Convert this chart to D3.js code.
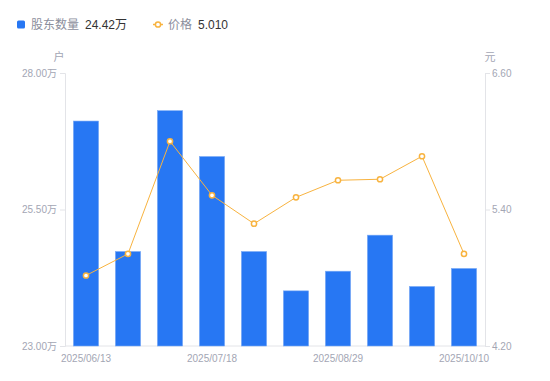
<!DOCTYPE html>
<html>
<head>
<meta charset="utf-8">
<script src="https://cdn.jsdelivr.net/npm/d3@7"></script>
<style>
  body { margin: 0; background: #fff; }
  svg { display: block; font-family: "Liberation Sans", Arial, "Noto Sans CJK SC", sans-serif; }
</style>
</head>
<body>
<svg id="chart" width="550" height="381"></svg>
<script>
// data
const dates = ['2025/06/13', '2025/06/27', '2025/07/04', '2025/07/18', '2025/07/31',
               '2025/08/15', '2025/08/29', '2025/09/12', '2025/09/26', '2025/10/10'];
const holders = [27.12, 24.73, 27.31, 26.47, 24.73, 24.01, 24.37, 25.03, 24.09, 24.42]; // 万户
const prices = [4.82, 5.01, 6.00, 5.525, 5.275, 5.507, 5.657, 5.666, 5.868, 5.01];   // 元
const shownDates = ['2025/06/13', '2025/07/18', '2025/08/29', '2025/10/10'];
const holderTicks = [23, 25.5, 28];
const priceTicks = [4.2, 5.4, 6.6];

const W = 550, H = 381;
const m = { left: 65, right: 485, top: 73, bottom: 346 };
const blue = '#2777f3', orange = '#f8b33f', axisCol = '#e3e4e8', tickCol = '#a3a6b4';

const svg = d3.select('#chart');

const x = d3.scaleBand().domain(dates).range([m.left, m.right])
            .paddingInner(0.4).paddingOuter(0.2);
const yL = d3.scaleLinear().domain([23, 28]).range([m.bottom, m.top]);
const yR = d3.scaleLinear().domain([4.2, 6.6]).range([m.bottom, m.top]);

// axes
const axL = d3.axisLeft(yL).tickValues(holderTicks).tickSize(5).tickPadding(3)
              .tickFormat(d => d.toFixed(2) + '万');
const axR = d3.axisRight(yR).tickValues(priceTicks).tickSize(5).tickPadding(2)
              .tickFormat(d => d.toFixed(2));
const axB = d3.axisBottom(x).tickValues(shownDates).tickSize(0).tickPadding(9);

function style(g) {
    g.selectAll('path, line').attr('stroke', axisCol);
    g.selectAll('text').attr('fill', tickCol).attr('font-size', 10);
    g.attr('font-family', null);
}

svg.append('g').attr('transform', `translate(${m.left},0)`).call(axL).call(style);
svg.append('g').attr('transform', `translate(${m.right},0)`).call(axR).call(style);
svg.append('g').attr('transform', `translate(0,${m.bottom})`).call(axB).call(style)
    .select('.domain').attr('d', `M${m.left},0H${m.right}`);

// units
svg.append('text').attr('x', 59).attr('y', 61).attr('text-anchor', 'middle')
    .attr('font-size', 11).attr('fill', tickCol).text('户');
svg.append('text').attr('x', 490).attr('y', 61).attr('text-anchor', 'middle')
    .attr('font-size', 11).attr('fill', tickCol).text('元');

// bars
svg.append('g').selectAll('rect')
    .data(holders)
    .enter()
        .append('rect')
            .attr('x', (d, i) => x(dates[i]))
            .attr('y', d => yL(d))
            .attr('width', x.bandwidth())
            .attr('height', d => m.bottom - yL(d))
            .attr('fill', blue)
            .attr('stroke', '#7aaaf6')
            .attr('stroke-width', 0.6);

// price line
const cx = (d, i) => x(dates[i]) + x.bandwidth() / 2;
svg.append('path')
    .datum(prices)
    .attr('d', d3.line().x(cx).y(d => yR(d)))
    .attr('fill', 'none')
    .attr('stroke', orange)
    .attr('stroke-width', 1);

svg.append('g').selectAll('circle')
    .data(prices)
    .enter()
        .append('circle')
            .attr('cx', cx)
            .attr('cy', d => yR(d))
            .attr('r', 2.6)
            .attr('fill', '#fff')
            .attr('stroke', orange)
            .attr('stroke-width', 1.5);

// legend
const lg = svg.append('g').attr('font-size', 12);
lg.append('rect').attr('x', 17).attr('y', 20.5).attr('width', 8).attr('height', 8)
    .attr('rx', 1.5).attr('fill', blue);
lg.append('text').attr('x', 31).attr('y', 29).attr('fill', '#8b8e9c').text('股东数量');
lg.append('text').attr('x', 85).attr('y', 29).attr('fill', '#333')
    .text(holders[holders.length - 1].toFixed(2) + '万');

lg.append('line').attr('x1', 153).attr('x2', 163).attr('y1', 24.5).attr('y2', 24.5)
    .attr('stroke', orange).attr('stroke-width', 1.5);
lg.append('circle').attr('cx', 158).attr('cy', 24.5).attr('r', 2.6)
    .attr('fill', '#fff').attr('stroke', orange).attr('stroke-width', 1.5);
lg.append('text').attr('x', 168).attr('y', 29).attr('fill', '#8b8e9c').text('价格');
lg.append('text').attr('x', 198).attr('y', 29).attr('fill', '#333')
    .text(prices[prices.length - 1].toFixed(3));
</script>
</body>
</html>
